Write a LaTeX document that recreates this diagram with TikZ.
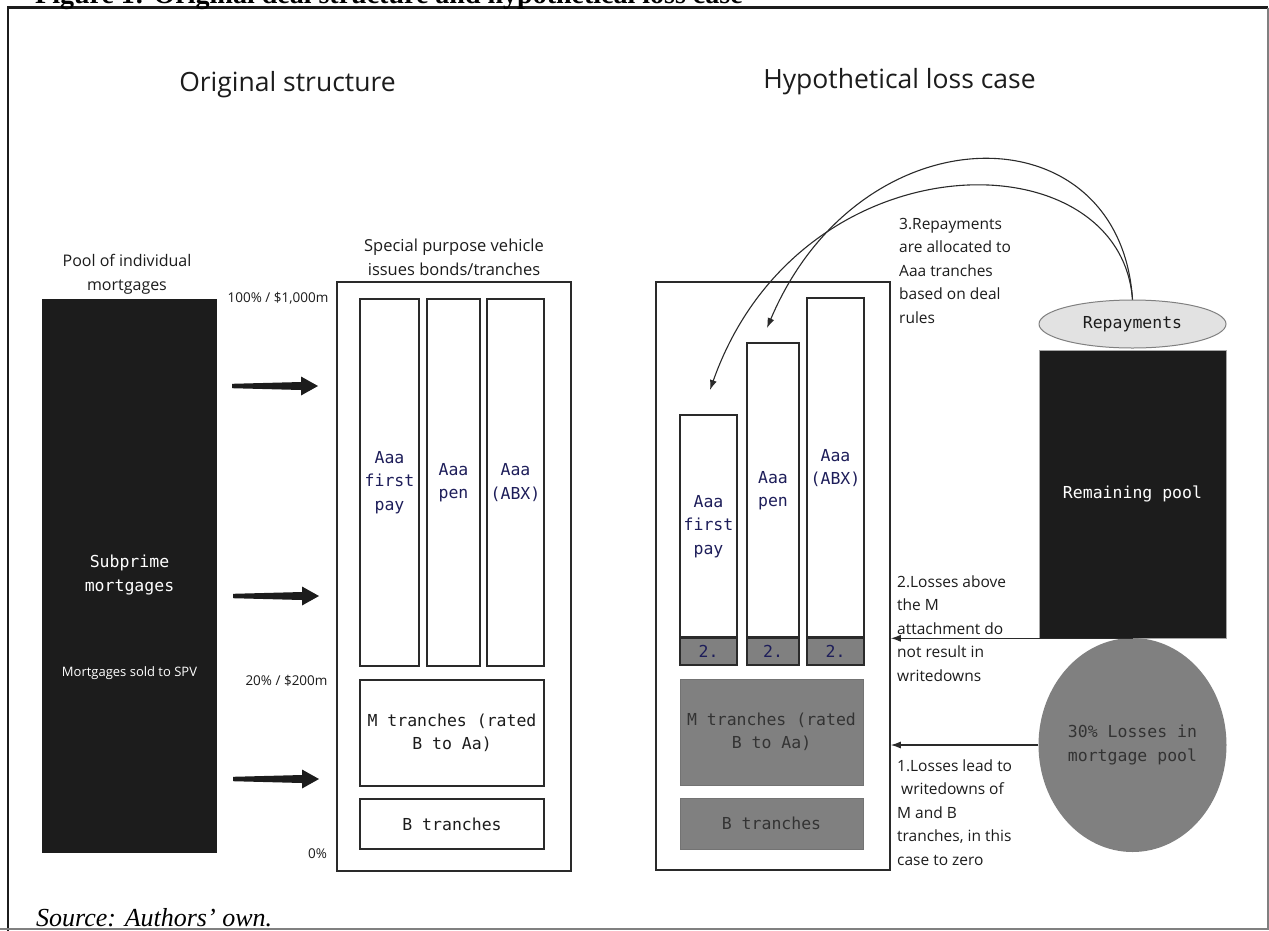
\documentclass[tikz,border=0pt]{standalone}
\usepackage{fontspec}
\setmainfont{Open Sans}
\newfontfamily\monof{DejaVu Sans Mono}
\newfontfamily\serf{Liberation Serif}
\usetikzlibrary{arrows.meta,shapes.geometric}
\definecolor{blk}{HTML}{1C1C1C}
\definecolor{gry}{HTML}{808080}
\definecolor{navy}{HTML}{1E1E5A}
\definecolor{edge}{HTML}{2A2A2A}
\definecolor{lgry}{HTML}{E2E2E2}
\definecolor{dtext}{HTML}{333333}
\begin{document}
\begin{tikzpicture}[x=1pt,y=-1pt,
  tbox/.style={draw=edge,line width=1.6pt,inner sep=0pt,fill=white,align=center},
  gbox/.style={fill=gry,draw=gry!90!black,line width=0.8pt,inner sep=0pt,align=center,
    font=\monof\fontsize{16.5}{23.5}\selectfont,text=dtext},
  twobox/.style={fill=gry,draw=edge,line width=1.6pt,inner sep=0pt,
    font=\monof\fontsize{16.5}{20}\selectfont,text=navy},
  aaa/.style={font=\monof\fontsize{16.5}{23.5}\selectfont,text=navy},
  mono/.style={font=\monof\fontsize{16.5}{23.5}\selectfont,align=center,inner sep=0pt},
  lbl/.style={font=\fontsize{15.5}{23.5}\selectfont,align=left,inner sep=0pt,text=blk},
  hdr/.style={font=\fontsize{16}{24}\selectfont,align=center,inner sep=0pt,text=blk},
  small/.style={font=\fontsize{13.5}{16}\selectfont,inner sep=0pt,text=blk},
  ttl/.style={font=\fontsize{26.5}{30}\selectfont,inner sep=0pt,text=blk},
  thinarr/.style={draw=edge,line width=1.1pt,-{Latex[length=10pt,width=7pt]}},
  fatarr/.pic={\fill[blk] (0,-2.2) -- (69,-4) -- (69,-9.5) -- (86,0) -- (69,9.5) -- (69,4) -- (0,2.2) -- cycle;}
]
\clip (0,0) rectangle (1269,930);
\fill[white] (0,0) rectangle (1269,930);
% frame
\draw[blk,line width=2.2pt] (8,940) -- (8,7.5) -- (1268,7.5);
\draw[gray,line width=1.2pt] (1268,7.5) -- (1268,929) -- (0,929);
% title (cut off at top, as in the source image) and source
\node[anchor=base west,inner sep=0pt,font=\serf\bfseries\fontsize{28}{32}\selectfont] (title) at (35,3)
  {Figure 1: Original deal structure and hypothetical loss case};
\node[anchor=base west,inner sep=0pt,font=\serf\itshape\fontsize{26}{30}\selectfont] (src) at (36,926)
  {Source: Authors’ own.};
% section titles
\node[ttl] (t1) at (287.5,85) {Original structure};
\node[ttl] (t2) at (899.5,82) {Hypothetical loss case};

% ---------- left: original structure ----------
\node[hdr] (poolhdr) at (127,274) {Pool of individual\\mortgages};
\node[fill=blk,inner sep=0pt,minimum width=175,minimum height=554] (pool) at (129.5,575.5) {};
\node[mono,text=white] (subp) at (129.5,575) {Subprime\\mortgages};
\node[small,text=white,font=\fontsize{13}{16}\selectfont] (sold) at (129.5,673) {Mortgages sold to SPV};

\node[small] (p100) at (278,298) {100\% / \$1,000m};
\node[small] (p20) at (286.5,681) {20\% / \$200m};
\node[small] (p0) at (317.5,854) {0\%};

\pic at (232,386) {fatarr};
\pic at (233,596) {fatarr};
\pic at (233,779) {fatarr};

\node[hdr,font=\fontsize{16.5}{24}\selectfont] (spvhdr) at (454,257) {Special purpose vehicle\\issues bonds/tranches};
\node[tbox,minimum width=234,minimum height=589] (spv) at (454,576.5) {};
\node[tbox,aaa,minimum width=59,minimum height=367] (lfp) at (389.5,482.5) {Aaa\\first\\pay};
\node[tbox,aaa,minimum width=53,minimum height=367] (lpen) at (453.5,482.5) {Aaa\\pen};
\node[tbox,aaa,minimum width=57,minimum height=367] (labx) at (515.5,482.5) {Aaa\\(ABX)};
\node[tbox,font=\monof\fontsize{16.5}{23.5}\selectfont,text=blk,minimum width=184,minimum height=106] (lm) at (452,733) {M tranches (rated\\B to Aa)};
\node[tbox,font=\monof\fontsize{16.5}{23.5}\selectfont,text=blk,minimum width=184,minimum height=50] (lb) at (452,824) {B tranches};

% ---------- right: hypothetical loss case ----------
\node[tbox,minimum width=234,minimum height=588] (rout) at (773,576) {};
\node[tbox,aaa,minimum width=57,minimum height=223] (rfp) at (708.5,526.5) {Aaa\\first\\pay};
\node[tbox,aaa,minimum width=52,minimum height=295] (rpen) at (773,490.5) {Aaa\\pen};
\node[tbox,aaa,minimum width=57,minimum height=340] (rabx) at (835.5,468) {Aaa\\(ABX)};
\node[twobox,minimum width=57,minimum height=27] (rfp2) at (708.5,651.5) {2.};
\node[twobox,minimum width=52,minimum height=27] (rpen2) at (773,651.5) {2.};
\node[twobox,minimum width=57,minimum height=27] (rabx2) at (835.5,651.5) {2.};
\foreach \n in {rfp2,rpen2,rabx2}{\draw[edge,line width=3pt] (\n.north west) -- (\n.north east);}
\node[gbox,minimum width=183,minimum height=106] (rm) at (771.5,732) {M tranches (rated\\B to Aa)};
\node[gbox,minimum width=183,minimum height=51] (rb) at (771.5,823.5) {B tranches};

\node[ellipse,fill=lgry,draw=gray,line width=1pt,inner sep=0pt,minimum width=187,minimum height=48,
  font=\monof\fontsize{16.5}{20}\selectfont,text=blk] (rep) at (1132.5,324) {Repayments};
\node[fill=blk,draw=gray!70,line width=0.6pt,inner sep=0pt,minimum width=187,minimum height=288,
  font=\monof\fontsize{16.5}{20}\selectfont,text=white] (rem) at (1132.5,494) {Remaining pool};
\node[ellipse,fill=gry,inner sep=0pt,minimum width=188,minimum height=214,align=center,
  font=\monof\fontsize{16.5}{23.5}\selectfont,text=dtext] (loss) at (1132.5,745) {30\% Losses in\\mortgage pool};

% notes
\node[lbl,anchor=west] (n3) at (899,270.6) {3.Repayments\\are allocated to\\Aaa tranches\\based on deal\\rules};
\node[lbl,anchor=west] (n2) at (897,628.4) {2.Losses above\\the M\\attachment do\\not result in\\writedowns};
\node[lbl,anchor=west] (n1) at (897,812.6) {1.Losses lead to\\\hspace*{4pt}writedowns of\\M and B\\tranches, in this\\case to zero};

% connectors
\coordinate (tipfp) at (710,390);
\coordinate (tippen) at (767,328);
\draw[thinarr] (rem.south) -- (rem.south -| rout.east);
\draw[thinarr] (loss.west) -- (loss.west -| rout.east);
\draw[thinarr] (rep.north) .. controls (1120,108) and (860,108) .. (tippen);
\draw[thinarr] (rep.north) .. controls (1120,135) and (800,135) .. (tipfp);
\end{tikzpicture}
\end{document}
